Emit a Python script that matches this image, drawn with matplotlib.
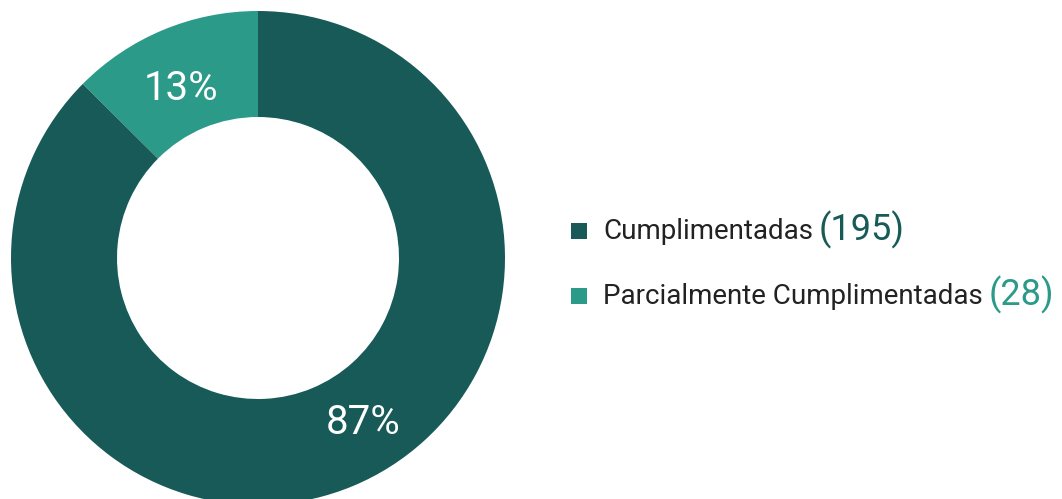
import matplotlib.pyplot as plt
from matplotlib.patches import Rectangle

# data
labels = ['Parcialmente Cumplimentadas', 'Cumplimentadas']
counts = [28, 195]
colors = ['#2c9a88', '#175a58']

plt.rcParams['font.family'] = ['Roboto', 'DejaVu Sans']

fig = plt.figure(figsize=(10.62, 4.99), dpi=100)
ax = fig.add_axes([0, 0, 1, 1])

# donut, pixel-like coordinates
wedges, _ = ax.pie(counts, colors=colors, startangle=90, counterclock=True,
                   center=(258, 241), radius=247, frame=True,
                   wedgeprops=dict(width=106, linewidth=0))
ax.set_xlim(0, 1062)
ax.set_ylim(0, 499)
ax.set_aspect('equal')
ax.axis('off')

total = sum(counts)
pct_pos = [(181, 499 - 88), (363, 499 - 422)]
for c, (x, y) in zip(counts, pct_pos):
    ax.text(x, y, f'{round(c / total * 100)}%', color='white', fontsize=29,
            ha='center', va='center')

# legend (Cumplimentadas first)
fig.canvas.draw()
renderer = fig.canvas.get_renderer()
rows = [(1, 499 - 231), (0, 499 - 296)]
for i, y in rows:
    ax.add_patch(Rectangle((571, y - 8), 16, 16, color=colors[i], lw=0))
    t = ax.text(603, y, labels[i], color='#222222', fontsize=20,
                ha='left', va='center')
    bb = t.get_window_extent(renderer)
    x_end = ax.transData.inverted().transform((bb.x1, bb.y0))[0]
    ax.text(x_end + 6, y + 1, f'({counts[i]})', color=colors[i], fontsize=26,
            ha='left', va='center')

fig.savefig('out.png', dpi=100)
